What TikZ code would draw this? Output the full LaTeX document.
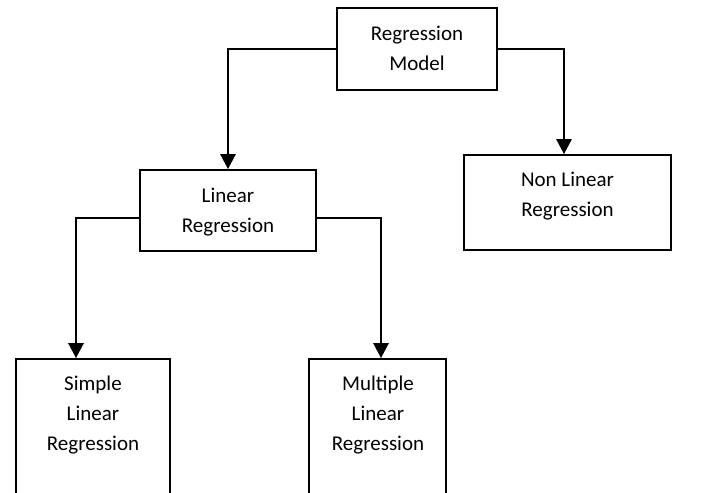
\documentclass[tikz,border=0pt]{standalone}
\usepackage{fontspec}
\setmainfont{Carlito}
\usetikzlibrary{arrows.meta}
\begin{document}
\begin{tikzpicture}[x=1pt,y=-1pt,
 box/.style={draw, line width=1.7pt, inner sep=0pt},
 lbl/.style={font=\fontsize{21}{30}\selectfont, align=center, inner sep=0pt},
 arr/.style={line width=2.6pt, -{Triangle[width=15pt,length=15pt]}}]
\useasboundingbox (0,0) rectangle (702,493);
\clip (0,0) rectangle (702,493);
\node[box, minimum width=160pt, minimum height=82pt] (model) at (417,49) {};
\node[box, minimum width=176pt, minimum height=81pt] (linear) at (228,210.5) {};
\node[box, minimum width=207pt, minimum height=95pt] (nonlin) at (567.5,202.5) {};
\node[box, minimum width=154pt, minimum height=170pt] (simple) at (93,444) {};
\node[box, minimum width=137pt, minimum height=170pt] (multiple) at (377.5,444) {};
\node[lbl] (tmodel) at (417,48) {Regression\\Model};
\node[lbl] (tlinear) at (228,212) {Linear\\Regression};
\node[lbl] (tnonlin) at (567.5,196) {Non Linear\\Regression};
\node[lbl] (tsimple) at (93,415) {Simple\\Linear\\Regression};
\node[lbl] (tmultiple) at (378,415) {Multiple\\Linear\\Regression};
\draw[arr] (model.west) -| (linear.north);
\draw[arr] (model.east) -| ([xshift=-3.5pt]nonlin.north);
\draw[arr] ([yshift=-7.5pt]linear.west) -| ([xshift=-17pt]simple.north);
\draw[arr] ([yshift=-7.5pt]linear.east) -| ([xshift=3.5pt]multiple.north);
\end{tikzpicture}
\end{document}
